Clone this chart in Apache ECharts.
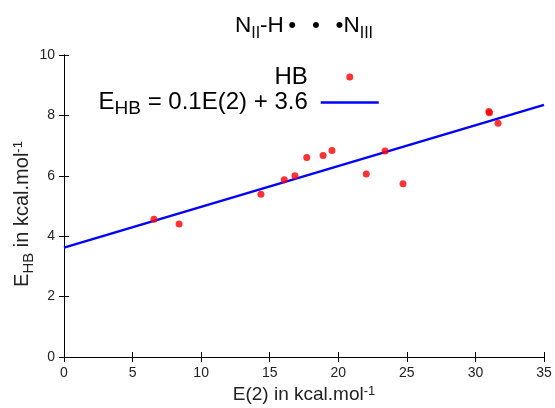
<!DOCTYPE html>
<html>
<head>
<meta charset="utf-8">
<script src="https://cdn.jsdelivr.net/npm/echarts@6/dist/echarts.min.js"></script>
<style>
html,body{margin:0;padding:0;background:#fff;}
#c{width:555px;height:408px;}
</style>
</head>
<body>
<div id="c"></div>
<script>
// Data
const hbX = [6.56, 8.39, 14.36, 16.06, 16.84, 17.70, 18.89, 19.54, 22.04, 23.41, 24.72, 30.98, 31.02, 31.65];
const hbY = [4.56, 4.40, 5.39, 5.87, 6.00, 6.61, 6.67, 6.84, 6.06, 6.82, 5.74, 8.13, 8.09, 7.74];
const fitX = [0, 35];
const fitY = [3.62, 8.35];
const seriesNames = ['HB', 'fit'];
const xTicks = [0, 5, 10, 15, 20, 25, 30, 35];
const yTicks = [0, 2, 4, 6, 8, 10];

const FONT = 'Liberation Sans, Arial, sans-serif';
const chart = echarts.init(document.getElementById('c'), null, {renderer: 'canvas'});

const axisCommon = {
  axisLine: {show: true, lineStyle: {color: '#000', width: 1}},
  axisTick: {show: true, inside: true, length: 5, lineStyle: {color: '#000'}},
  splitLine: {show: false}
};

chart.setOption({
  animation: false,
  backgroundColor: '#fff',
  title: {
    text: '{n|N}{s|II}{n|-H\u2009•\u2002\u2009•\u2002\u2009•N}{s|III}',
    left: 304, textAlign: 'center', top: 14, padding: 0,
    textStyle: {
      fontWeight: 'normal',
      rich: {
        n: {fontFamily: FONT, fontSize: 22.5, fontWeight: 'normal', color: '#000', lineHeight: 28, verticalAlign: 'top'},
        s: {fontFamily: FONT, fontSize: 16, fontWeight: 'normal', color: '#000', lineHeight: 10, verticalAlign: 'bottom'}
      }
    }
  },
  grid: {left: 64, right: 11, top: 55, bottom: 51, containLabel: false, outerBoundsMode: 'none'},
  legend: {
    orient: 'vertical',
    right: 175, top: 65, padding: 0,
    align: 'right',
    itemWidth: 58, itemHeight: 7, itemGap: 1.5,
    data: [{name: 'HB', icon: 'circle'}, {name: 'fit', itemStyle: {opacity: 0}, lineStyle: {width: 2.5, color: '#0000ff'}}],
    formatter: function (name) {
      if (name === 'HB') return '{h|HB}';
      return '{n|E}{s|HB}{e| = 0.1E(2) + 3.6}';
    },
    textStyle: {
      rich: {
        h: {fontFamily: FONT, fontSize: 24, color: '#000', lineHeight: 26, verticalAlign: 'middle', padding: [0, 8, 0, 0]},
        n: {fontFamily: FONT, fontSize: 24, color: '#000', lineHeight: 31, verticalAlign: 'middle'},
        e: {fontFamily: FONT, fontSize: 24, color: '#000', lineHeight: 31, verticalAlign: 'middle', padding: [0, 8, 0, 0]},
        s: {fontFamily: FONT, fontSize: 19, color: '#000', lineHeight: 10, verticalAlign: 'bottom'}
      }
    }
  },
  xAxis: [
    Object.assign({}, axisCommon, {
      type: 'value', min: xTicks[0], max: xTicks[xTicks.length - 1], interval: 5, position: 'bottom',
      axisLabel: {fontFamily: FONT, fontSize: 14, color: '#222', margin: 9},
      name: '{n|E(2) in kcal.mol}{p|-1}',
      nameLocation: 'middle', nameGap: 27,
      nameTextStyle: {
        rich: {
          n: {fontFamily: FONT, fontSize: 19, color: '#222', lineHeight: 24, verticalAlign: 'top'},
          p: {fontFamily: FONT, fontSize: 13, color: '#222', lineHeight: 12, verticalAlign: 'top'}
        }
      }
    }),
    Object.assign({}, axisCommon, {
      type: 'value', min: 0, max: 35, interval: 5, position: 'top',
      axisLabel: {show: false}
    })
  ],
  yAxis: [
    Object.assign({}, axisCommon, {
      type: 'value', min: yTicks[0], max: yTicks[yTicks.length - 1], interval: 2, position: 'left',
      axisLabel: {fontFamily: FONT, fontSize: 14, color: '#222', margin: 9},
      name: '{n|E}{s|HB}{n| in kcal.mol}{p|-1}',
      nameLocation: 'middle', nameGap: 28, nameRotate: 90, nameMoveOverlap: false,
      nameTextStyle: {
        padding: [0, 16, 0, 0],
        rich: {
          n: {fontFamily: FONT, fontSize: 20, color: '#222', lineHeight: 24, verticalAlign: 'top'},
          s: {fontFamily: FONT, fontSize: 15, color: '#222', lineHeight: 10, verticalAlign: 'bottom'},
          p: {fontFamily: FONT, fontSize: 13, color: '#222', lineHeight: 12, verticalAlign: 'top'}
        }
      }
    }),
    Object.assign({}, axisCommon, {
      type: 'value', min: 0, max: 10, interval: 2, position: 'right',
      axisLabel: {show: false}
    })
  ],
  series: [
    {
      name: seriesNames[0], type: 'scatter', xAxisIndex: 0, yAxisIndex: 0,
      symbol: 'circle', symbolSize: 7,
      itemStyle: {color: '#ff0000'},
      data: hbX.map((x, i) => [x, hbY[i]]),
      z: 3
    },
    {
      name: seriesNames[1], type: 'line', xAxisIndex: 0, yAxisIndex: 0,
      symbol: 'none', showSymbol: false,
      lineStyle: {color: '#0000ff', width: 2.5},
      itemStyle: {color: '#0000ff'},
      data: fitX.map((x, i) => [x, fitY[i]]),
      z: 2
    }
  ]
});
</script>
</body>
</html>
